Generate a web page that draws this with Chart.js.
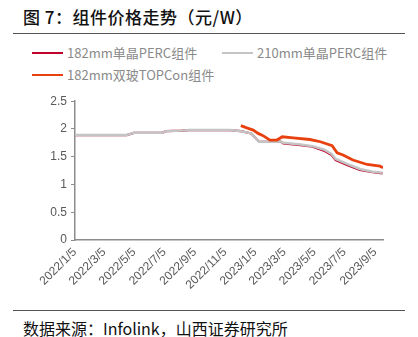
<!DOCTYPE html>
<html>
<head>
<meta charset="utf-8">
<script src="https://cdn.jsdelivr.net/npm/chart.js@4"></script>
<style>
  body { margin: 0; width: 418px; height: 337px; background: #fff; position: relative; overflow: hidden;
         font-family: "Noto Sans CJK SC", "Noto Sans", sans-serif; }
  #title { position: absolute; left: 23px; top: 4px; font-size: 17px; font-weight: 500; color: #111; letter-spacing: 0.5px; }
  .rule { position: absolute; left: 13px; width: 392px; height: 1px; background: #555; }
  #legend { position: absolute; left: 32px; top: 43px; font-size: 13px; color: #8a8a8a; }
  .item { position: absolute; white-space: nowrap; height: 20px; line-height: 20px; }
  .item span { display: inline-block; width: 31px; height: 2px; vertical-align: middle; margin-right: 4px; position: relative; top: -1px; }
  #source { position: absolute; left: 23px; top: 316px; font-size: 16px; color: #111; }
  #wrap { position: absolute; left: 0; top: 90px; width: 418px; height: 220px; }
</style>
</head>
<body>
<div id="title">图 7：组件价格走势（元/W）</div>
<div class="rule" style="top:33px"></div>
<div id="legend"></div>
<div id="wrap"><canvas id="chart" width="418" height="220"></canvas></div>
<div class="rule" style="top:310px"></div>
<div id="source">数据来源：Infolink，山西证券研究所</div>
<script>
// series names
const seriesNames = ['182mm单晶PERC组件', '210mm单晶PERC组件', '182mm双玻TOPCon组件'];

// PERC price dates and values (元/W)
const percDates = ['2022/1/5', '2022/4/20', '2022/5/4', '2022/7/1', '2022/7/8', '2022/8/10', '2022/8/24',
  '2022/11/16', '2022/12/7', '2022/12/28', '2023/1/5', '2023/1/13', '2023/2/17', '2023/2/24', '2023/3/3',
  '2023/4/7', '2023/5/1', '2023/5/24', '2023/6/9', '2023/6/17', '2023/7/10', '2023/8/5', '2023/8/31', '2023/9/20'];
const perc182 = [1.89, 1.89, 1.93, 1.93, 1.96, 1.97, 1.98, 1.98, 1.96, 1.92, 1.84, 1.77, 1.77, 1.78, 1.74,
  1.71, 1.68, 1.61, 1.53, 1.44, 1.35, 1.26, 1.22, 1.20];
const perc210 = [1.89, 1.89, 1.93, 1.93, 1.96, 1.97, 1.98, 1.98, 1.96, 1.92, 1.84, 1.77, 1.77, 1.78, 1.75,
  1.72, 1.69, 1.63, 1.55, 1.46, 1.37, 1.28, 1.23, 1.21];

// TOPCon price dates and values
const topconDates = ['2022/12/7', '2022/12/19', '2023/1/1', '2023/1/11', '2023/1/21', '2023/2/4', '2023/2/18',
  '2023/3/1', '2023/3/23', '2023/4/26', '2023/5/17', '2023/6/10', '2023/6/20', '2023/7/2', '2023/7/22',
  '2023/8/20', '2023/9/15', '2023/9/21'];
const topcon = [2.06, 2.02, 1.98, 1.92, 1.88, 1.80, 1.80, 1.86, 1.84, 1.81, 1.77, 1.70, 1.57, 1.53, 1.44,
  1.36, 1.33, 1.30];

// x-axis tick labels
const tickLabels = ['2022/1/5', '2022/3/5', '2022/5/5', '2022/7/5', '2022/9/5', '2022/11/5',
  '2023/1/5', '2023/3/5', '2023/5/5', '2023/7/5', '2023/9/5'];

const colors = ['#c0002b', '#c4c4c4', '#e8400f'];

function toDay(s) {
  const p = s.split('/').map(Number);
  return Math.round((Date.UTC(p[0], p[1] - 1, p[2]) - Date.UTC(2022, 0, 5)) / 86400000);
}
function points(dates, vals) {
  return dates.map((d, i) => ({ x: toDay(d), y: vals[i] }));
}

// legend
const legendPos = [[0, 0], [190, 0], [0, 22]];
const legend = document.getElementById('legend');
seriesNames.forEach((n, i) => {
  const el = document.createElement('div');
  el.className = 'item';
  el.style.left = legendPos[i][0] + 'px';
  el.style.top = legendPos[i][1] + 'px';
  el.innerHTML = '<span style="background:' + colors[i] + '"></span>' + n;
  legend.appendChild(el);
});

const tickValues = tickLabels.map(toDay);
const labelFor = {};
tickLabels.forEach(t => { labelFor[toDay(t)] = t; });

const axisColor = '#8c8c8c';
const tickFont = { family: 'Liberation Sans, Arial, sans-serif', size: 12 };

new Chart(document.getElementById('chart'), {
  type: 'line',
  data: {
    datasets: [
      // higher order is drawn underneath
      { label: seriesNames[0], data: points(percDates, perc182), borderColor: colors[0], borderWidth: 2.2, order: 3 },
      { label: seriesNames[1], data: points(percDates, perc210), borderColor: colors[1], borderWidth: 2.5, order: 2 },
      { label: seriesNames[2], data: points(topconDates, topcon), borderColor: colors[2], borderWidth: 2.8, order: 1 }
    ]
  },
  options: {
    responsive: false,
    animation: false,
    elements: { point: { radius: 0 }, line: { tension: 0 } },
    layout: { padding: { top: 10, right: 35, left: 0, bottom: 0 } },
    plugins: { legend: { display: false }, tooltip: { enabled: false } },
    scales: {
      x: {
        type: 'linear',
        min: 0,
        max: toDay('2023/9/21'),
        afterBuildTicks: s => { s.ticks = tickValues.map(v => ({ value: v })); },
        afterFit: s => { s.height = 70; },
        grid: { display: false, drawOnChartArea: false, drawTicks: true, tickLength: 4, color: axisColor },
        border: { color: axisColor, width: 1.5 },
        ticks: {
          color: '#595959', font: tickFont, minRotation: 45, maxRotation: 45, padding: 1,
          callback: v => labelFor[v] || ''
        }
      },
      y: {
        min: 0,
        max: 2.5,
        afterFit: s => { s.width = 75; },
        grid: { display: true, drawOnChartArea: false, drawTicks: true, tickLength: 4, color: axisColor },
        border: { color: axisColor, width: 1.5 },
        ticks: {
          stepSize: 0.5, color: '#595959', font: { family: 'Liberation Sans, Arial, sans-serif', size: 12 }, padding: 4,
          callback: v => String(v)
        }
      }
    }
  }
});
</script>
</body>
</html>
